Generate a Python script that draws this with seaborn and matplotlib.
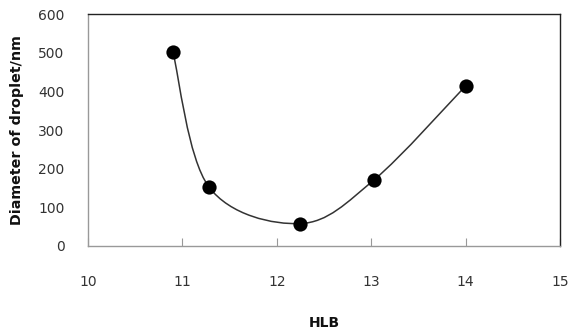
import numpy as np
import pandas as pd
import matplotlib
matplotlib.use("Agg")
import matplotlib.pyplot as plt
from matplotlib.path import Path
from matplotlib.patches import PathPatch
import seaborn as sns

hlb = [10.9, 11.28, 12.25, 13.03, 14.0]
diameter = [501, 153, 58, 171, 414]
x_ticks = [10, 11, 12, 13, 14, 15]
y_ticks = [0, 100, 200, 300, 400, 500, 600]

sns.set_theme(style="white")
plt.rcParams['font.family'] = ['DejaVu Sans']

df = pd.DataFrame({"HLB": hlb, "Diameter": diameter})

fig = plt.figure(figsize=(5.7, 3.34), dpi=100)
ax = fig.add_axes([0.1544, 0.2635, 0.8281, 0.6945])

# Excel-style smoothed line (Catmull-Rom -> cubic Bezier)
pts = np.column_stack([hlb, diameter]).astype(float)
n = len(pts)
verts = [tuple(pts[0])]
codes = [Path.MOVETO]
for i in range(n - 1):
    p0 = pts[i - 1] if i > 0 else pts[i]
    p1 = pts[i]
    p2 = pts[i + 1]
    p3 = pts[i + 2] if i + 2 < n else pts[i + 1]
    c1 = p1 + (p2 - p0) / 6.0
    c2 = p2 - (p3 - p1) / 6.0
    verts += [tuple(c1), tuple(c2), tuple(p2)]
    codes += [Path.CURVE4] * 3
ax.add_patch(PathPatch(Path(verts, codes), facecolor="none", edgecolor="#333333", lw=1.1, zorder=2))

sns.scatterplot(data=df, x="HLB", y="Diameter", ax=ax, color="black", s=105,
                edgecolor="black", linewidth=0, zorder=3, legend=False)

ax.set_xlim(10, 15)
ax.set_ylim(0, 600)
ax.set_xticks(x_ticks)
ax.set_yticks(y_ticks)
ax.set_xticklabels([str(t) for t in x_ticks], fontsize=10, color="#333333")
ax.set_yticklabels([str(t) for t in y_ticks], fontsize=10, color="#333333")
ax.tick_params(axis="x", direction="in", length=6, width=0.8, color="#999999", pad=21, bottom=True)
ax.tick_params(axis="y", length=0, pad=17)

ax.set_xlabel("HLB", fontsize=10, fontweight="bold", labelpad=19, color="#111111")
ax.set_ylabel("Diameter of droplet/nm", fontsize=10.3, fontweight="bold", labelpad=10, color="#111111")

for side in ["left", "bottom"]:
    ax.spines[side].set_color("#999999")
    ax.spines[side].set_linewidth(1.0)
for side in ["top", "right"]:
    ax.spines[side].set_color("#222222")
    ax.spines[side].set_linewidth(1.0)
    ax.spines[side].set_visible(True)

fig.savefig("out.png", dpi=100)
